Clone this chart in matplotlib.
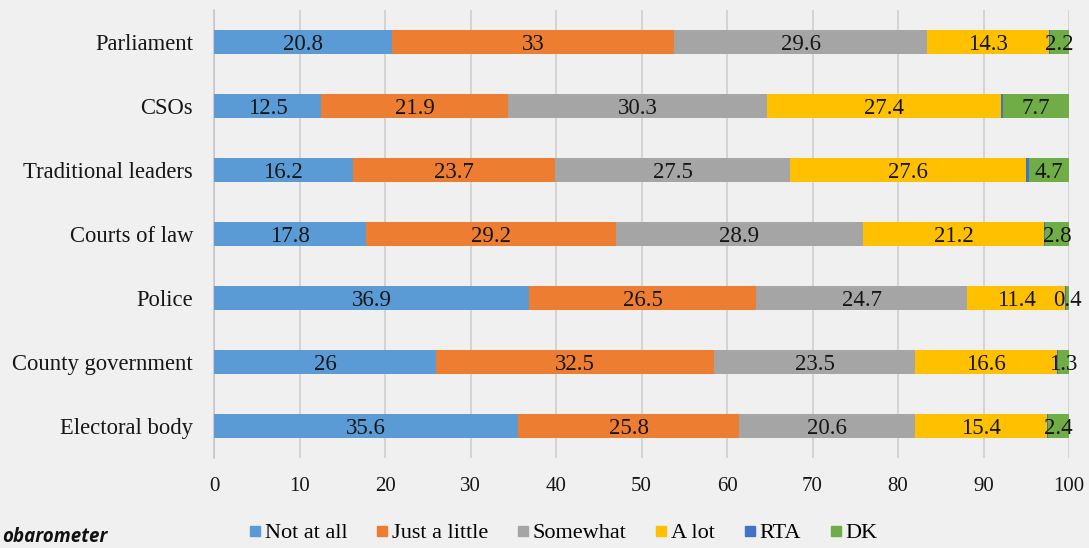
import matplotlib.pyplot as plt
from matplotlib.lines import Line2D

# data (top to bottom as shown)
institutions = ["Parliament", "CSOs", "Traditional leaders", "Courts of law",
                "Police", "County government", "Electoral body"]
not_at_all = [20.8, 12.5, 16.2, 17.8, 36.9, 26, 35.6]
just_a_little = [33, 21.9, 23.7, 29.2, 26.5, 32.5, 25.8]
somewhat = [29.6, 30.3, 27.5, 28.9, 24.7, 23.5, 20.6]
a_lot = [14.3, 27.4, 27.6, 21.2, 11.4, 16.6, 15.4]
rta = [0.1, 0.2, 0.3, 0.1, 0.1, 0.1, 0.2]
dk = [2.2, 7.7, 4.7, 2.8, 0.4, 1.3, 2.4]

series = [("Not at all", not_at_all, "#5B9BD5", True),
          ("Just a little", just_a_little, "#ED7D31", True),
          ("Somewhat", somewhat, "#A5A5A5", True),
          ("A lot", a_lot, "#FFC000", True),
          ("RTA", rta, "#4472C4", False),
          ("DK", dk, "#70AD47", True)]

bg = "#f0f0f0"
plt.rcParams["font.family"] = ["Liberation Serif", "DejaVu Serif"]

fig = plt.figure(figsize=(10.89, 5.48), dpi=100, facecolor=bg)
ax = fig.add_axes([214/1089, 1-458/548, 855/1089, 448/548])
ax.set_facecolor(bg)

y = list(range(len(institutions)))[::-1]
left = [0]*len(institutions)
handles = []
for name, vals, col, show in series:
    ax.barh(y, vals, left=left, height=0.39, color=col, zorder=3)
    if show:
        for yi, l, v in zip(y, left, vals):
            ax.text(l + v/2, yi, f"{v:g}", ha="center", va="center_baseline",
                    fontsize=16.5, color="#161616", zorder=4)
    left = [a+b for a, b in zip(left, vals)]
    handles.append(Line2D([], [], marker="s", linestyle="none", markersize=7,
                          markerfacecolor=col, markeredgecolor=col, label=name))

ax.set_xlim(0, 100)
ax.set_ylim(-0.5, 6.5)
ax.set_xticks(range(0, 101, 10))
ax.set_yticks(y)
ax.set_yticklabels(institutions)
ax.tick_params(axis="both", length=0, colors="#161616")
ax.tick_params(axis="x", pad=14, labelsize=15)
ax.tick_params(axis="y", pad=15, labelsize=16.3)
ax.grid(axis="x", color="#cfcfcf", linewidth=1.2, zorder=0)
for s in ["top", "right", "bottom"]:
    ax.spines[s].set_visible(False)
ax.spines["left"].set_color("#c8c8c8")
ax.spines["left"].set_linewidth(1.2)

fig.legend(handles=handles, loc="center", bbox_to_anchor=(562/1089, 1-533/548),
           ncol=6, frameon=False, fontsize=16, handletextpad=0.05,
           columnspacing=1.15, handlelength=0.8)

fig.text(2/1089, 1-537/548, "obarometer", ha="left", va="center",
         fontsize=13.5, fontweight="bold", fontstyle="italic",
         family=["Open Sans", "DejaVu Sans"], color="#111111")

fig.savefig("out.png", dpi=100, facecolor=bg)
